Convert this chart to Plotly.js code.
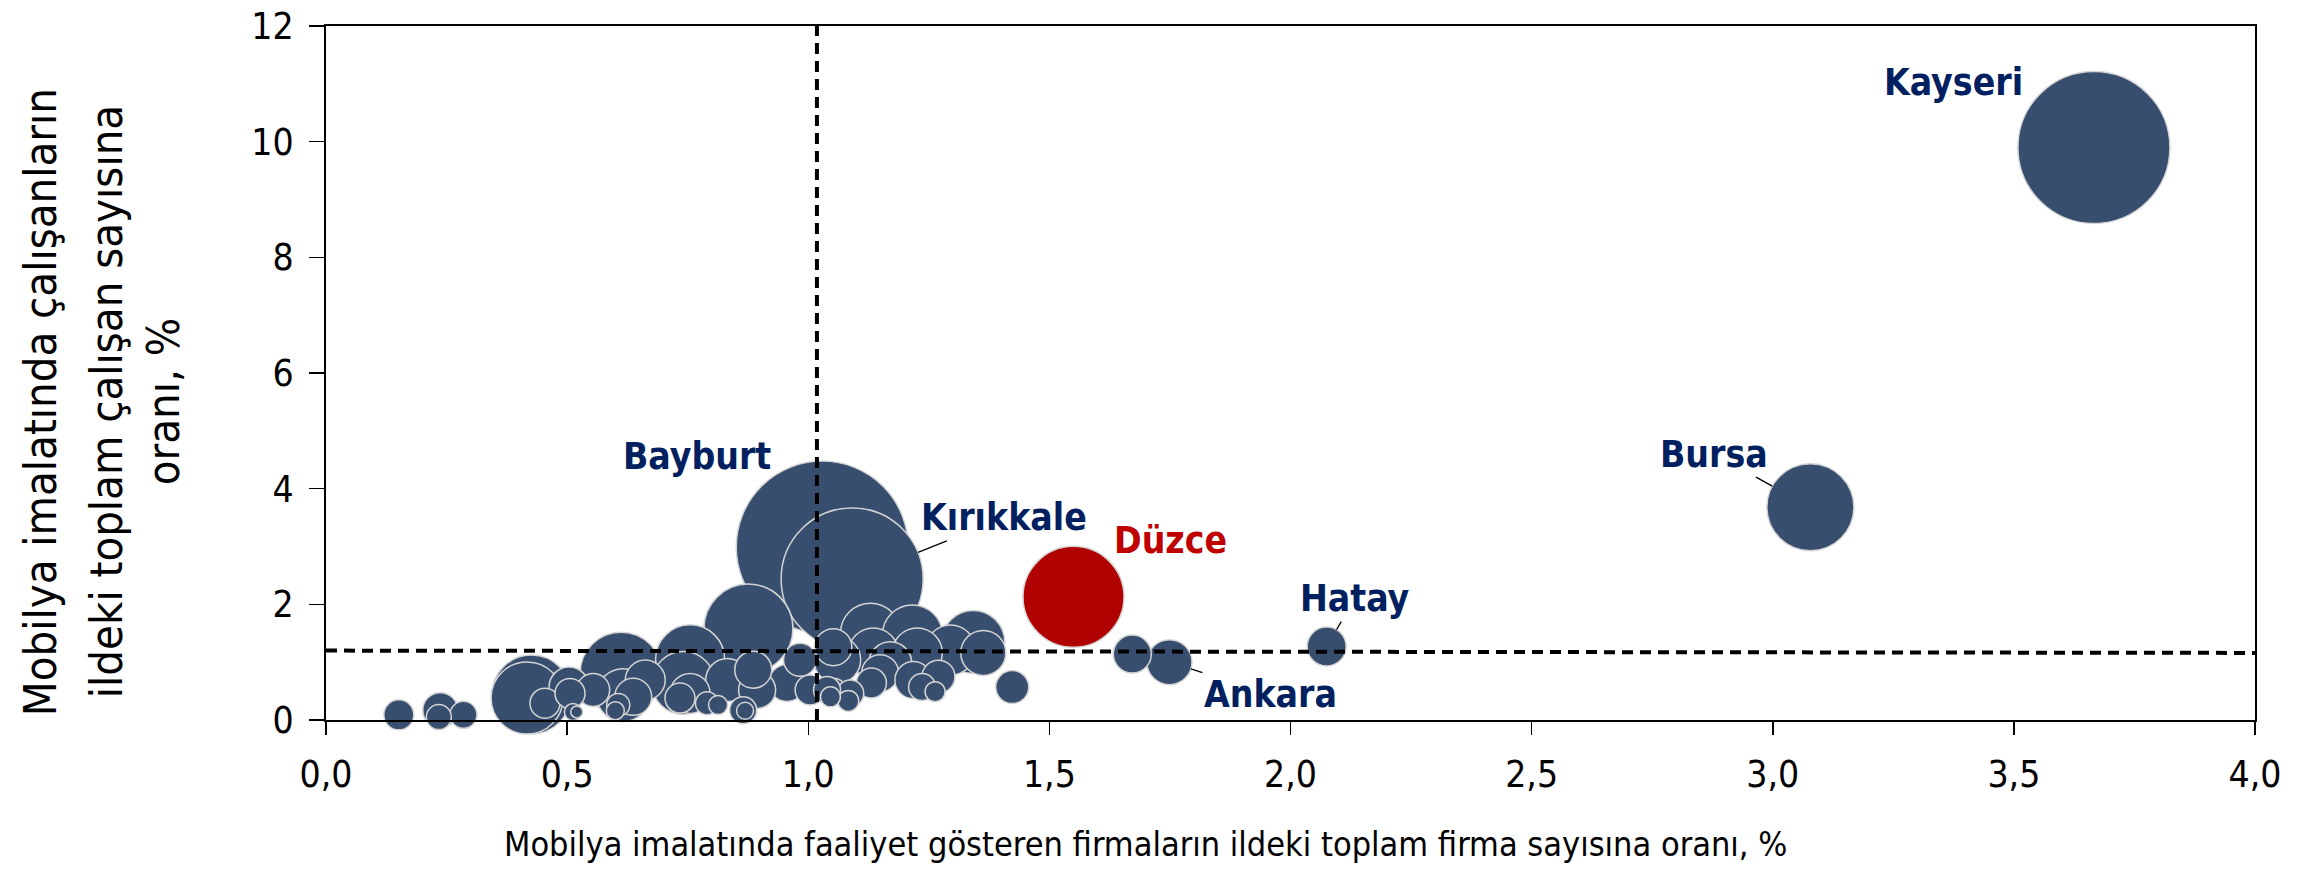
<!DOCTYPE html>
<html><head><meta charset="utf-8">
<script src="https://cdn.plot.ly/plotly-3.0.1.min.js"></script>
<style>body{margin:0;background:#fff}#chart{width:2315px;height:870px}</style>
</head><body><div id="chart"></div>
<script>
// Province data: x = firm share (%), y = employee share (%), size = relative bubble size
const provinceNames = ['Kayseri','Bursa','Bayburt','Kırıkkale','Düzce','Hatay','Ankara','','','','','','','','','','','','','','','','','','','','','','','','','','','','','','','','','','','','','','','','','','','','','','','','','','','','','',''];
const firmShare = [3.666,3.078,1.029,1.091,1.55,2.075,1.749,1.672,0.876,0.612,0.755,0.426,0.417,1.129,1.216,1.342,1.363,1.295,1.226,1.135,1.06,1.17,1.149,1.218,1.27,1.236,1.263,1.052,1.087,1.083,1.423,1.052,0.983,1.004,1.039,1.046,0.956,0.894,0.886,0.832,0.865,0.869,0.79,0.813,0.741,0.734,0.755,0.662,0.554,0.616,0.637,0.606,0.60,0.504,0.454,0.512,0.52,0.506,0.151,0.237,0.234,0.285,1.131];
const employeeShare = [9.90,3.68,2.99,2.44,2.13,1.27,1.00,1.14,1.58,0.81,1.05,0.44,0.38,1.50,1.47,1.35,1.16,1.21,1.16,1.16,1.04,0.98,0.81,0.69,0.75,0.57,0.49,0.49,0.46,0.33,0.57,1.26,1.04,0.52,0.52,0.40,0.64,0.52,0.87,0.69,0.17,0.16,0.29,0.26,0.64,0.38,0.46,0.69,0.52,0.43,0.40,0.26,0.16,0.57,0.29,0.14,0.14,0.46,0.09,0.17,0.05,0.09,0.64];
const bubbleSize = [15.2,8.7,17.2,14.2,10.1,3.9,4.5,3.8,8.9,8.2,6.9,7.9,7.2,6.0,6.0,6.3,4.5,5.0,5.0,5.0,4.7,4.3,3.7,3.7,3.3,2.7,2.0,2.7,2.7,2.1,3.3,3.7,3.3,3.0,2.7,2.0,3.7,3.7,3.7,4.3,2.7,1.7,2.3,1.9,6.3,3.0,4.0,4.0,3.3,5.3,3.7,2.3,1.8,4.0,3.0,1.7,1.2,3.0,3.0,3.5,2.5,2.7,3.0];

// Reference (average) lines
const avgLineVX = [1.018, 1.018], avgLineVY = [0, 12];
const avgLineHX = [0, 4], avgLineHY = [1.20, 1.16];

const xTitle = 'Mobilya imalatında faaliyet gösteren firmaların ildeki toplam firma sayısına oranı, %';
const yTitleLines = ['Mobilya imalatında çalışanların', 'ildeki toplam çalışan sayısına', 'oranı, %'];

// label placement (pixel offsets from bubble centre) and leader-line visibility
const labelStyle = {
  'Kayseri':   {ax:-140, ay:-65, line:false},
  'Bursa':     {ax:-96,  ay:-53, line:true},
  'Bayburt':   {ax:-125, ay:-91, line:false},
  'Kırıkkale': {ax:152,  ay:-61, line:true},
  'Düzce':     {ax:97,   ay:-56, line:false},
  'Hatay':     {ax:28,   ay:-48, line:true},
  'Ankara':    {ax:101,  ay:32,  line:true}
};

const FONT = "Tahoma, 'DejaVu Sans Condensed', 'DejaVu Sans', sans-serif";
const BLUE = '#384E6E', RED = '#B00000', NAVY = '#002060';

// draw larger bubbles first
const order = firmShare.map((_, i) => i).sort((a, b) => bubbleSize[b] - bubbleSize[a]);
const bubbles = {
  type: 'scatter', mode: 'markers',
  x: order.map(i => firmShare[i]),
  y: order.map(i => employeeShare[i]),
  marker: {
    size: order.map(i => bubbleSize[i]),
    sizemode: 'diameter', sizeref: 0.1,
    color: order.map(i => provinceNames[i] === 'Düzce' ? RED : BLUE),
    opacity: 1,
    line: {color: '#d4d4d4', width: 1.5}
  },
  hoverinfo: 'skip', showlegend: false, cliponaxis: false
};
const vLine = {type:'scatter', mode:'lines', x: avgLineVX, y: avgLineVY,
  line:{color:'#000', width:4, dash:'11px,7px'}, hoverinfo:'skip', showlegend:false};
const hLine = {type:'scatter', mode:'lines', x: avgLineHX, y: avgLineHY,
  line:{color:'#000', width:4, dash:'11px,7px'}, hoverinfo:'skip', showlegend:false};

const annotations = [];
provinceNames.forEach((n, i) => {
  if (!n) return;
  const s = labelStyle[n];
  annotations.push({
    x: firmShare[i], y: employeeShare[i], xref:'x', yref:'y',
    text: '<b>' + n + '</b>', showarrow: true, ax: s.ax, ay: s.ay,
    arrowhead: 0, arrowwidth: 1.3, standoff: bubbleSize[i] * 5,
    arrowcolor: s.line ? '#000' : 'rgba(0,0,0,0)',
    font: {family: FONT, size: 37, color: n === 'Düzce' ? '#C00000' : NAVY}
  });
});
const yTitleShift = [-286, -220, -163];
yTitleLines.forEach((t, k) => {
  annotations.push({
    xref:'paper', yref:'paper', x:0, y:0.458, xshift: yTitleShift[k],
    text: t, textangle: -90, showarrow:false, xanchor:'center', yanchor:'middle',
    font:{family: FONT, size: 45, color:'#000'}
  });
});
annotations.push({
  xref:'paper', yref:'paper', x:0.425, y:0, yshift:-124,
  text: xTitle, showarrow:false, xanchor:'center', yanchor:'middle',
  font:{family: FONT, size: 34, color:'#000'}
});

const layout = {
  width: 2315, height: 870,
  margin: {l: 326, r: 60, t: 26, b: 150},
  paper_bgcolor: '#fff', plot_bgcolor: '#fff',
  separators: ', ',
  font: {family: FONT, color: '#000'},
  xaxis: {
    range: [0, 4], dtick: 0.5, tick0: 0, tickformat: '.1f',
    showgrid: false, zeroline: false,
    showline: true, linecolor: '#000', linewidth: 2, mirror: true,
    ticks: 'outside', ticklen: 13, tickwidth: 1.5, tickcolor: '#000',
    ticklabelstandoff: 8,
    tickfont: {family: FONT, size: 37}
  },
  yaxis: {
    range: [0, 12], dtick: 2, tick0: 0,
    showgrid: false, zeroline: false,
    showline: true, linecolor: '#000', linewidth: 2, mirror: true,
    ticks: 'outside', ticklen: 15, tickwidth: 1.5, tickcolor: '#000',
    ticklabelstandoff: 8,
    tickfont: {family: FONT, size: 37}
  },
  annotations: annotations,
  showlegend: false
};

Plotly.newPlot('chart', [bubbles, vLine, hLine], layout, {displayModeBar: false, staticPlot: true});
</script></body></html>
